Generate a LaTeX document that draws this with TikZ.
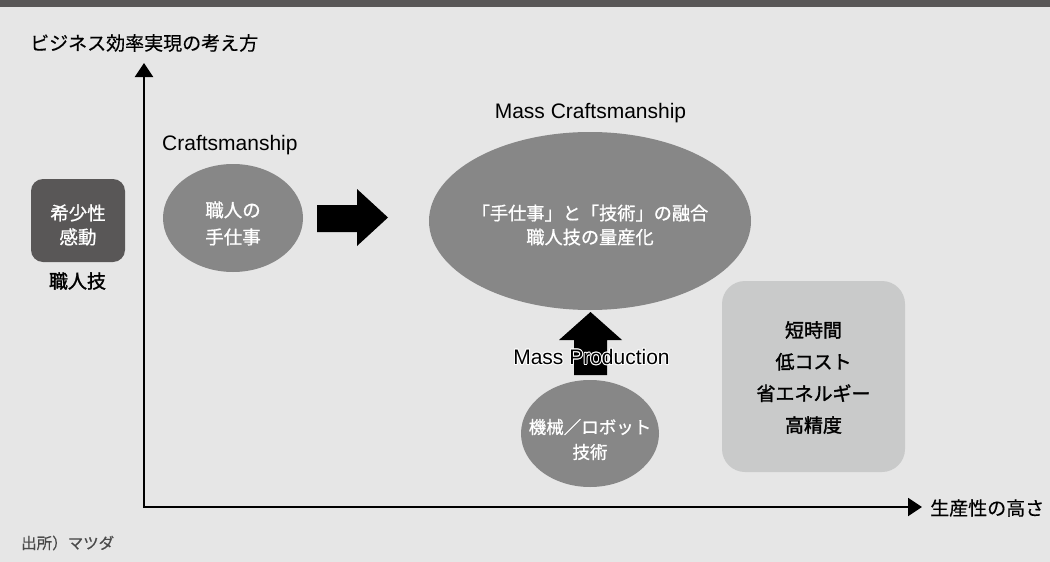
\documentclass[tikz,border=0pt]{standalone}
\usepackage{fontspec}
\setmainfont{Liberation Sans}
\newfontfamily\jp[FakeBold=0.4]{Noto Sans CJK JP}
\newfontfamily\jpm[FakeBold=0.9]{Noto Sans CJK JP}
\newfontfamily\jpb[FakeBold=1.6]{Noto Sans CJK JP}
\usetikzlibrary{shapes.geometric,arrows.meta}
\definecolor{bg}{HTML}{E6E6E6}
\definecolor{band}{HTML}{595757}
\definecolor{darkbox}{HTML}{595757}
\definecolor{ell}{HTML}{878787}
\definecolor{lightbox}{HTML}{C9CACA}
\definecolor{foot}{HTML}{4A4A4A}
\tikzset{
  jptext/.style={font=\jp\fontsize{19}{24}\selectfont, align=center, inner sep=0pt},
  whitetext/.style={align=center, inner sep=0pt, text=white},
  boldtext/.style={align=center, inner sep=0pt},
  latin/.style={font=\fontsize{21}{24}\selectfont, inner sep=0pt},
  ellshape/.style={ellipse, fill=ell, draw=none, inner sep=0pt},
  axisline/.style={line width=2pt, {Triangle[length=14pt,width=18pt]}-{Triangle[length=14pt,width=18pt]}},
  blockarrow/.style={fill=black},
}
\begin{document}
\begin{tikzpicture}[x=1pt,y=-1pt]
\fill[bg] (0,0) rectangle (1050,562);
\useasboundingbox (0,0) rectangle (1050,562);
\fill[band] (0,0) rectangle (1050,7);

% axes
\coordinate (o) at (144,507);
\coordinate (ytip) at (144,63);
\coordinate (xtip) at (922,507);
\draw[axisline] (ytip) -- (o) -- (xtip);
\node[jptext, anchor=west] (ylab) at (30,43) {ビジネス効率実現の考え方};
\node[jptext, anchor=west] (xlab) at (930,508) {生産性の高さ};

% left dark box
\node[fill=darkbox, rounded corners=12pt, minimum width=94pt, minimum height=83pt, inner sep=0pt] (rare) at (78,220.5) {};
\node[whitetext, font=\jpm\fontsize{18.5}{24}\selectfont] (raret) at (78,225) {希少性\\感動};
\node[boldtext, font=\jpb\fontsize{19}{24}\selectfont] (skill) at (77.5,281) {職人技};

% craftsmanship
\node[latin, anchor=west] (craftlab) at (162,145) {Craftsmanship};
\node[ellshape, minimum width=140pt, minimum height=108pt] (craft) at (233,218) {};
\node[whitetext, font=\jpm\fontsize{18.5}{27}\selectfont] (craftt) at (233,223.5) {職人の\\手仕事};

% right block arrow
\fill[blockarrow] (317,205) -- (357,205) -- (357,189) -- (388,217.5) -- (357,246) -- (357,232) -- (317,232) -- cycle;

% mass craftsmanship
\node[latin] (mclab) at (590.5,113.5) {Mass Craftsmanship};
\node[ellshape, minimum width=322pt, minimum height=178pt] (mc) at (590,221) {};
\node[whitetext, font=\jpm\fontsize{18.2}{24}\selectfont] (mct) at (590,225) {「手仕事」と「技術」の融合\\職人技の量産化};

% up block arrow
\fill[blockarrow] (574,375) -- (574,340) -- (559,340) -- (590.5,312) -- (622,340) -- (607,340) -- (607,375) -- cycle;

% mass production label with halo
\foreach \dx/\dy in {-1/0,1/0,0/-1,0/1,-0.7/-0.7,0.7/0.7,-0.7/0.7,0.7/-0.7}
  \node[latin, text=white] at (591.5+\dx,357+\dy) {Mass Production};
\node[latin] (mplab) at (591.5,357) {Mass Production};

% machine ellipse
\node[ellshape, minimum width=138pt, minimum height=107pt] (mach) at (590,433.5) {};
\node[whitetext, font=\jpm\fontsize{17.5}{25}\selectfont] (macht) at (590,439.5) {機械／ロボット\\技術};

% light box
\node[fill=lightbox, rounded corners=23pt, minimum width=183pt, minimum height=191pt, inner sep=0pt] (merit) at (813.5,376.5) {};
\node[boldtext, font=\jpb\fontsize{19}{31.7}\selectfont] (meritt) at (813.5,377.5) {短時間\\低コスト\\省エネルギー\\高精度};

% footer
\node[anchor=west, inner sep=0pt, text=foot, font=\jp\fontsize{15.5}{18}\selectfont] (src) at (21,543) {出所）マツダ};
\end{tikzpicture}
\end{document}
